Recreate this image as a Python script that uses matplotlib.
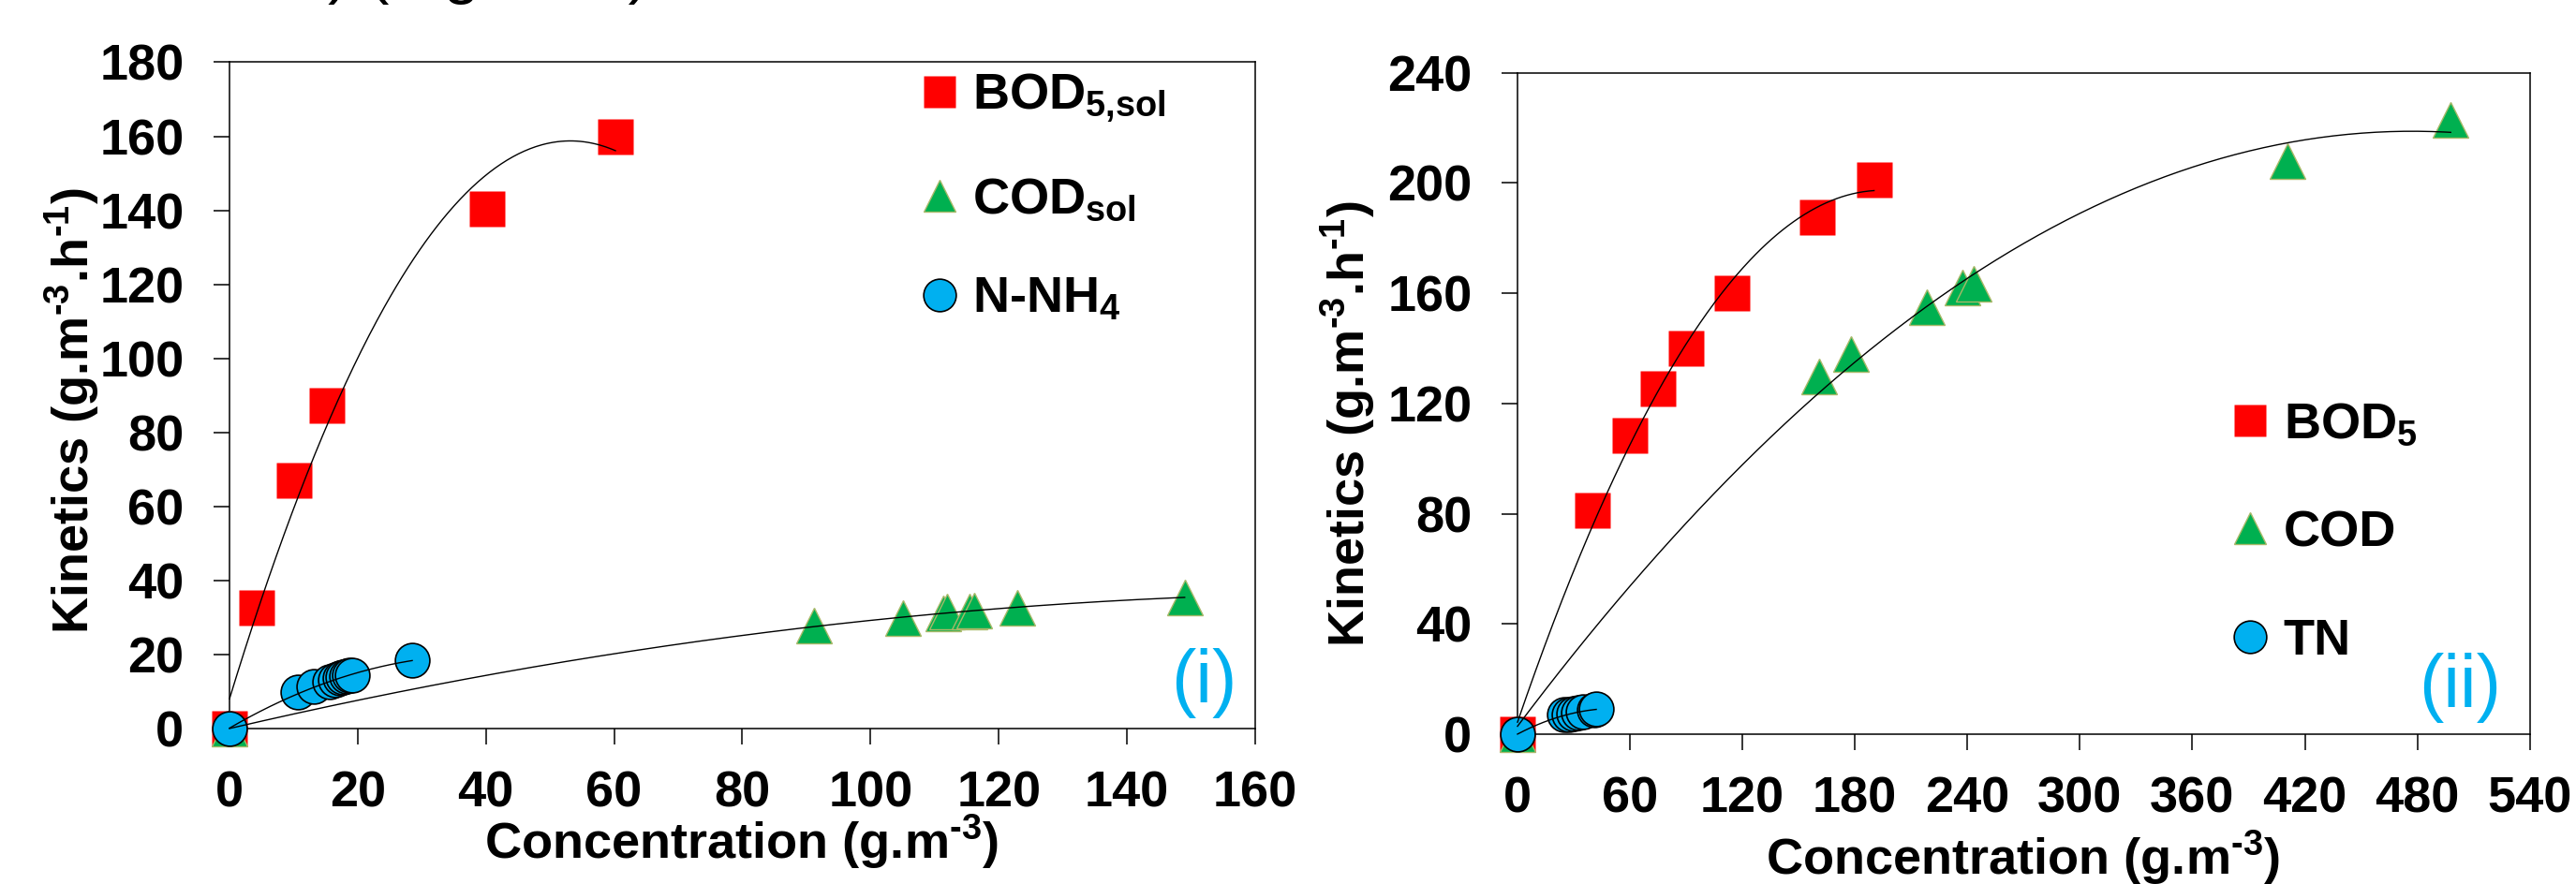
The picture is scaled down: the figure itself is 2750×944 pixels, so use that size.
import numpy as np
import matplotlib
matplotlib.use("Agg")
from matplotlib import pyplot as plt
from matplotlib.lines import Line2D

plt.rcParams['font.family'] = ['Liberation Sans', 'DejaVu Sans']
plt.rcParams['mathtext.fontset'] = 'custom'
plt.rcParams['mathtext.rm'] = 'Liberation Sans:bold'
plt.rcParams['mathtext.bf'] = 'Liberation Sans:bold'
plt.rcParams['mathtext.it'] = 'Liberation Sans:bold'

# (i) soluble fractions
bod_sol_x = [0, 4.3, 10.1, 15.2, 40.2, 60.2]
bod_sol_y = [0, 32.7, 67.0, 87.3, 140.3, 159.8]
cod_sol_x = [0, 91.2, 105.1, 111.3, 112.0, 115.5, 116.2, 122.9, 149.0]
cod_sol_y = [0, 27.8, 29.8, 31.0, 31.5, 31.6, 32.0, 32.7, 35.5]
nh4_x = [0, 10.7, 13.2, 15.6, 16.5, 17.2, 17.7, 18.2, 18.7, 19.1, 28.5]
nh4_y = [0, 9.8, 11.3, 12.6, 13.2, 13.6, 13.9, 14.1, 14.3, 14.5, 18.5]

# (ii) total fractions
bod_x = [0, 40.0, 59.8, 74.9, 89.9, 114.5, 160.1, 190.2]
bod_y = [0, 81.1, 108.5, 125.3, 140.1, 160.1, 187.6, 201.1]
cod_x = [0, 160.9, 177.7, 218.2, 237.1, 243.1, 410.9, 497.8]
cod_y = [0, 129.8, 138.0, 155.0, 162.2, 163.6, 207.9, 223.0]
tn_x = [0, 25.0, 27.5, 30.0, 32.5, 35.0, 40.8, 42.0]
tn_y = [0, 7.0, 7.3, 7.6, 7.9, 8.2, 8.8, 9.2]

RED = '#FF0000'
GREEN = '#00B050'
BLUE = '#00B0F0'
FS = 39
HY = '\u2010'  # plain hyphen in the superscripts, like the slide


def trend(ax, x, y):
    # 2nd order polynomial trendline (like Excel)
    p = np.polyfit(x, y, 2)
    X = np.linspace(min(x), max(x), 200)
    ax.plot(X, np.polyval(p, X), color='black', lw=1.0, zorder=5, clip_on=False)


def panel(ax, series, xlim, xticks, ylim, yticks, labels, legend_anchor, spacing,
          tag, tag_xy):
    (sx, sy), (tx, ty), (cx, cy) = series
    ax.plot(sx, sy, 's', ms=27.4, color=RED, mec='none', zorder=2, clip_on=False)
    ax.plot(tx, ty, '^', ms=28, color=GREEN, mec='#A8B868', mew=1.0, zorder=3,
            clip_on=False)
    ax.plot(cx, cy, 'o', ms=26.5, color=BLUE, mec='black', mew=1.2, zorder=4,
            clip_on=False)
    for x, y in series:
        trend(ax, x, y)

    ax.set_xlim(xlim)
    ax.set_ylim(ylim)
    ax.set_xticks(xticks)
    ax.set_yticks(yticks)
    for s in ax.spines.values():
        s.set_linewidth(1.1)
    ax.tick_params(direction='out', length=12, width=1.1, labelsize=FS)
    ax.tick_params(axis='y', pad=23)
    ax.tick_params(axis='x', pad=20)
    for lab in ax.get_xticklabels() + ax.get_yticklabels():
        lab.set_fontweight('bold')

    handles = [
        Line2D([], [], ls='none', marker='s', ms=25, color=RED, mec='none'),
        Line2D([], [], ls='none', marker='^', ms=25, color=GREEN, mec='#A8B868', mew=1.0),
        Line2D([], [], ls='none', marker='o', ms=25, color=BLUE, mec='black', mew=1.2),
    ]
    ax.legend(handles, labels, loc='upper left', bbox_to_anchor=legend_anchor,
              frameon=False, prop={'size': FS, 'weight': 'bold'},
              handlelength=0.7, handletextpad=0.3, labelspacing=spacing,
              borderpad=0, borderaxespad=0)
    ax.text(tag_xy[0], tag_xy[1], tag, transform=ax.transAxes, ha='center',
            va='baseline', fontsize=57, color=BLUE)


fig = plt.figure(figsize=(27.5, 9.44), dpi=100)

ax1 = fig.add_axes([0.08909, 0.17585, 0.39818, 0.75371])
panel(ax1,
      [(bod_sol_x, bod_sol_y), (cod_sol_x, cod_sol_y), (nh4_x, nh4_y)],
      (0, 160), np.arange(0, 161, 20), (0, 180), np.arange(0, 181, 20),
      [r'BOD$_{5{,}sol}$', r'COD$_{sol}$', r'N-NH$_{4}$'],
      (0.675, 0.985), 1.03, '(i)', (0.950, 0.04))

ax2 = fig.add_axes([0.58909, 0.16949, 0.39298, 0.74820])
panel(ax2,
      [(bod_x, bod_y), (cod_x, cod_y), (tn_x, tn_y)],
      (0, 540), np.arange(0, 541, 60), (0, 240), np.arange(0, 241, 40),
      [r'BOD$_{5}$', 'COD', 'TN'],
      (0.7065, 0.503), 1.21, '(ii)', (0.931, 0.041))

# axis titles
lab_x = r'Concentration (g.m$^{' + HY + r'3}$)'
lab_y = r'Kinetics (g.m$^{' + HY + r'3}$.h$^{' + HY + r'1}$)'
fig.text(792 / 2750, 1 - 917 / 944, lab_x, ha='center', va='baseline',
         fontsize=FS, fontweight='bold')
fig.text(2160 / 2750, 1 - 934 / 944, lab_x, ha='center', va='baseline',
         fontsize=FS, fontweight='bold')
fig.text(77 / 2750, 1 - 439 / 944, lab_y, ha='center', va='center',
         rotation=90, fontsize=FS, fontweight='bold')
fig.text(1439 / 2750, 1 - 453 / 944, lab_y, ha='center', va='center',
         rotation=90, fontsize=FS, fontweight='bold')

# cut-off caption line from the slide above the charts (only its bottom shows)
fig.text(0.002, 1 + 9 / 944, 'et al., 2019) (Figure 3)', ha='left', va='baseline',
         fontsize=50, color='black')

fig.savefig('out.png', dpi=100)
